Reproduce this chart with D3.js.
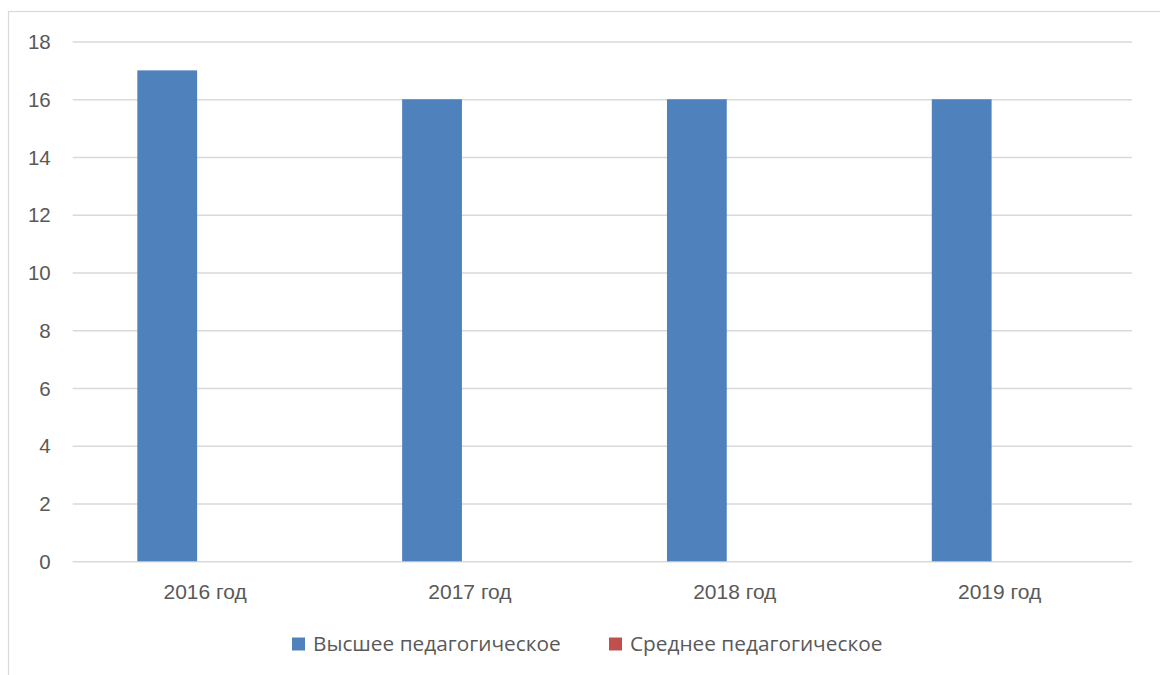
<!DOCTYPE html>
<html><head><meta charset="utf-8">
<script src="https://cdn.jsdelivr.net/npm/d3@7"></script>
<style>body{margin:0;background:#fff;}svg{display:block;font-family:"Open Sans","Noto Sans",sans-serif;}</style>
</head><body>
<svg id="c" width="1160" height="675"></svg>
<script>
const categories = ["2016 год","2017 год","2018 год","2019 год"];
const seriesNames = ["Высшее педагогическое","Среднее педагогическое"];
const seriesColors = ["#4f81bd","#c0504d"];
const higherEd = [17,16,16,16];
const secondaryEd = [0,0,0,0];
const yTicks = [0,2,4,6,8,10,12,14,16,18];

const seriesValues = [higherEd, secondaryEd];
const svg = d3.select("#c");
const L = 72.7, R = 1132, T = 41.5, B = 561.3;

svg.append("rect").attr("x",8.5).attr("y",11.5).attr("width",1200).attr("height",700)
  .attr("fill","#fff").attr("stroke","#d9d9d9").attr("stroke-width",1.2);

const y = d3.scaleLinear().domain([0,18]).range([B,T]);
const x0 = d3.scaleBand().domain(categories).range([L,R]).padding(0);
const bw = x0.bandwidth();
const off = bw*0.244;
const x1 = d3.scaleBand().domain(seriesNames).range([off, bw-off]).paddingInner(0.211);

const yAxis = d3.axisLeft(y).tickValues(yTicks).tickSize(-(R-L)).tickPadding(22);
const gy = svg.append("g").attr("transform",`translate(${L},0)`).call(yAxis);
gy.select(".domain").remove();
gy.selectAll(".tick line").attr("stroke","#d9d9d9").attr("stroke-width",1.5);
gy.selectAll(".tick text").attr("fill","#595959").attr("font-size",20.5).attr("dy","0.35em");

const groups = svg.append("g").selectAll("g").data(categories).join("g")
  .attr("transform",d=>`translate(${x0(d)},0)`);
groups.selectAll("rect").data((d,i)=>seriesNames.map((s,j)=>({s,v:seriesValues[j][i],j})))
  .join("rect")
  .attr("x",d=>x1(d.s)).attr("width",x1.bandwidth())
  .attr("y",d=>y(d.v)).attr("height",d=>y(0)-y(d.v))
  .attr("fill",d=>seriesColors[d.j]);

const xAxis = d3.axisBottom(x0).tickSize(0).tickPadding(23);
const gx = svg.append("g").attr("transform",`translate(0,${B})`).call(xAxis);
gx.select(".domain").remove();
gx.selectAll(".tick text").attr("fill","#595959").attr("font-size",21);

const legendX = [292, 609];
const lg = svg.append("g").selectAll("g").data(seriesNames).join("g")
  .attr("transform",(d,i)=>`translate(${legendX[i]},644)`);
lg.append("rect").attr("x",0).attr("y",-6.5).attr("width",13).attr("height",13).attr("fill",(d,i)=>seriesColors[i]);
lg.append("text").attr("x",21).attr("dy","0.35em").attr("fill","#595959").attr("font-size",20.8).text(d=>d);
</script>
</body></html>
